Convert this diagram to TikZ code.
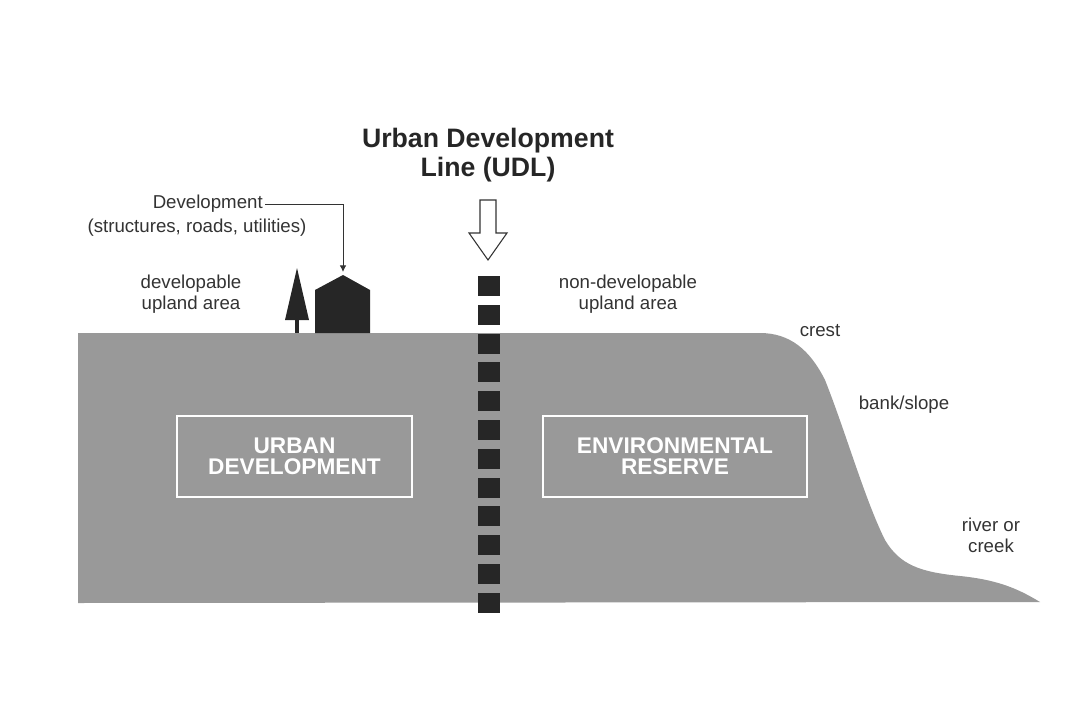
\documentclass[tikz,border=0pt]{standalone}
\usepackage{fontspec}
\setmainfont{Liberation Sans}
\usetikzlibrary{arrows.meta}
\begin{document}
\begin{tikzpicture}[x=0.75pt,y=-0.75pt,
  lbl/.style={text=black!80,font=\fontsize{14}{16}\selectfont,align=center,inner sep=0},
  zone/.style={draw=white,line width=1.5pt,text=white,font=\bfseries\fontsize{17}{16}\selectfont,align=center,minimum width=#1},
  dark/.style={fill=black!80}]
\useasboundingbox (0,0) rectangle (1080,720);
\fill[black!40] (78,333) -- (760,333) .. controls (790,333) and (810,350) .. (825,380)
  .. controls (845,430) and (865,500) .. (885,540) .. controls (900,565) and (920,572) .. (960,576)
  .. controls (1000,580) and (1020,590) .. (1040,602) -- (78,603) -- cycle;
\node[zone=235pt*0.75,minimum height=60.75pt] (ud) at (294.5,456.5) {URBAN\\DEVELOPMENT};
\node[zone=264pt*0.75,minimum height=60.75pt] (er) at (675,456.5) {ENVIRONMENTAL\\RESERVE};
\foreach \i in {0,...,11} \fill[black!85] (478,{276+\i*28.8}) rectangle (500,{296+\i*28.8});
\coordinate (udl) at (489,275);
\draw[black!80,fill=white,line width=0.8pt] (480,200) -- (496,200) -- (496,233) -- (507,233) -- (488,260) -- (469,233) -- (480,233) -- cycle;
\node[font=\bfseries\fontsize{20}{22}\selectfont,text=black!85,align=center] (title) at (488,155) {Urban Development\\Line (UDL)};
% tree and house
\fill[black!85] (295,333) rectangle (299,318);
\fill[black!85] (285,320) -- (297,268) -- (309,320) -- cycle;
\fill[black!85] (315,333) -- (315,290) -- (343,275) -- (370,290) -- (370,333) -- cycle;
\coordinate (roof) at (343,272);
\node[lbl,anchor=east] (dev) at (263,204) {Development};
\node[lbl] (dev2) at (197,228) {(structures, roads, utilities)};
\draw[black!80,line width=0.7pt,-{Latex[length=5pt,width=5pt]}] (dev.east) ++(2,0) -| (roof);
\node[lbl] (dua) at (191,294) {developable\\upland area};
\node[lbl] (ndua) at (628,294) {non-developable\\upland area};
\node[lbl] (crest) at (820,331) {crest};
\node[lbl] (bank) at (904,405) {bank/slope};
\node[lbl] (river) at (991,535) {river or\\creek};
\end{tikzpicture}
\end{document}
